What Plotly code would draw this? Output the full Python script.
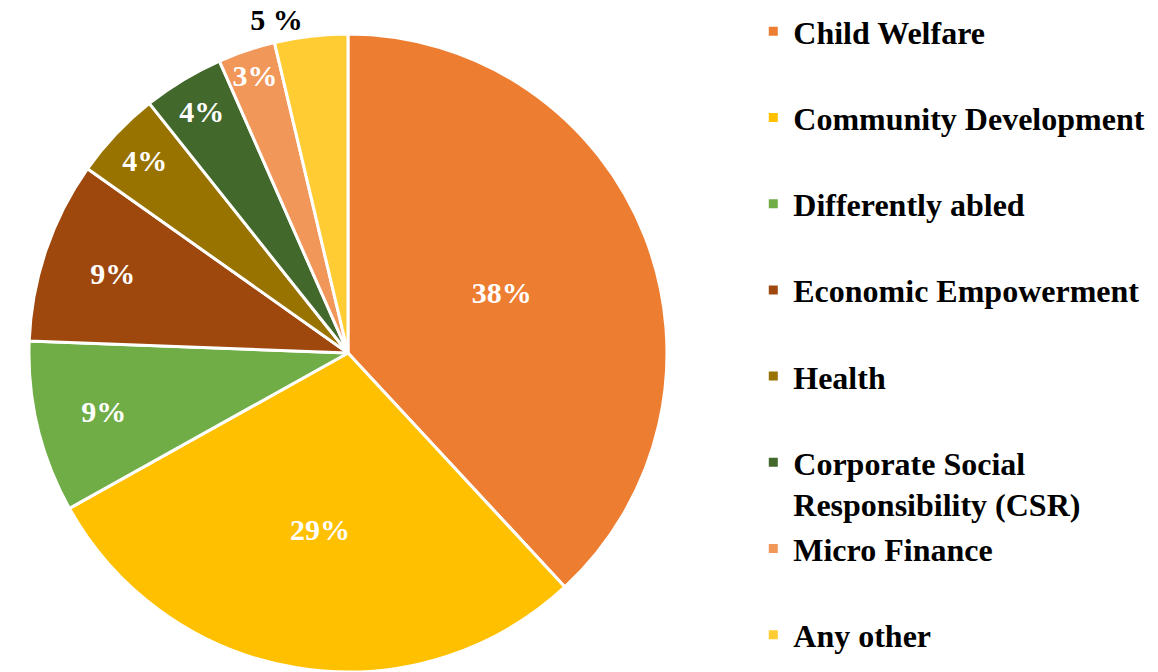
import plotly.graph_objects as go

# categories, shares and the printed labels
categories = ["Child Welfare", "Community Development", "Differently abled",
              "Economic Empowerment", "Health",
              "Corporate Social<br>Responsibility (CSR)", "Micro Finance", "Any other"]
shares = [38.1, 28.8, 8.7, 9.2, 4.5, 4.1, 2.9, 3.7]
pct_labels = ["38%", "29%", "9%", "9%", "4%", "4%", "3%", "5 %"]
colors = ["#ED7D31", "#FFC000", "#70AD47", "#9E480E",
          "#997300", "#43682B", "#F1975A", "#FFCD33"]

# one blank line under single-line names keeps legend rows evenly spaced
legend_names = [c if ("<br>" in c or i == len(categories) - 1) else c + "<br> "
                for i, c in enumerate(categories)]
text_pos = ["inside"] * 7 + ["outside"]

fig = go.Figure(go.Pie(
    labels=legend_names,
    values=shares,
    text=pct_labels,
    textinfo="text",
    textposition=text_pos,
    insidetextorientation="horizontal",
    sort=False,
    direction="clockwise",
    rotation=0,
    marker=dict(colors=colors, line=dict(color="white", width=3)),
    insidetextfont=dict(family="Liberation Serif", size=30, color="white", weight="bold"),
    outsidetextfont=dict(family="Liberation Serif", size=30, color="black", weight="bold"),
    automargin=False,
    domain=dict(x=[0.025, 0.576], y=[0, 1]),
    hoverinfo="label+percent",
))

fig.update_layout(
    width=1158, height=672,
    margin=dict(l=0, r=0, t=34, b=0),
    paper_bgcolor="white",
    plot_bgcolor="white",
    uniformtext=dict(minsize=30, mode="show"),
    legend=dict(
        x=0.6505, y=1.047, xanchor="left", yanchor="top",
        valign="top",
        maxheight=672,
        font=dict(family="Liberation Serif", size=32, color="black", weight="bold"),
        bgcolor="rgba(0,0,0,0)",
    ),
)

# drop the browser's default body margin so the figure sits at the page corner
fig.write_html("out.html", config={"displayModeBar": False},
               post_script="document.body.style.margin='0';")
